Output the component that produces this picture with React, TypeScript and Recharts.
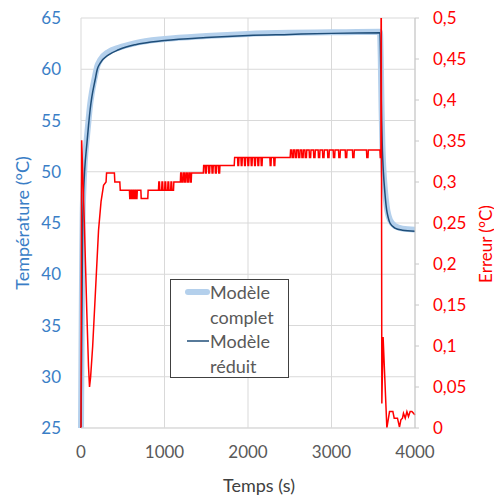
import React from 'react';
import { LineChart, Line, XAxis, YAxis, CartesianGrid, Legend } from 'recharts';

const FONT = 'Lato, "Open Sans", sans-serif';
const BLEU_CLAIR = '#B4D0EC';
const BLEU_FONCE = '#1F4E79';
const BLEU_TEXTE = '#3A7EC6';
const ROUGE = '#FF0000';
const GRIS_TEXTE = '#595959';
const GRILLE = '#D9D9D9';

// temps (s) des deux courbes de température
const tempsModele = [
  0, 5, 10, 15, 20, 30, 45, 70, 90, 110, 130, 170, 195, 230, 330, 450, 650, 1000, 1500, 2000, 2500,
  3000, 3580, 3590, 3600, 3610, 3620, 3640, 3660, 3680, 3700, 3760, 3850, 4000,
];
const modeleComplet = [
  25, 31.5, 37.5, 42, 45.8, 48.5, 51, 53.3, 55, 56.6, 57.7, 59.4, 60.3, 60.9, 61.7, 62.1, 62.55, 62.95, 63.25, 63.45, 63.55,
  63.6, 63.65, 61, 56, 52.5, 50.5, 48.2, 46.7, 45.8, 45.3, 44.7, 44.45, 44.35,
];
const modeleReduit = [
  25, 30, 35.5, 40.5, 44.8, 47.8, 50.3, 52.7, 54.5, 56.1, 57.3, 59, 60, 60.6, 61.4, 61.9, 62.4, 62.8, 63.1, 63.3, 63.4,
  63.5, 63.55, 60, 55, 52, 50.2, 47.9, 46.3, 45.5, 45, 44.5, 44.3, 44.2,
];

// erreur (°C) : début de la courbe [t, valeur]
const erreurDebut: [number, number][] = [
  [0, 0], [8, 0.351], [40, 0.25], [70, 0.14], [90, 0.075], [102, 0.05], [115, 0.062], [140, 0.1],
  [170, 0.16], [210, 0.241], [240, 0.276], [270, 0.296], [300, 0.3],
];
// paliers [début, fin, valeur]
const erreurPaliers: [number, number, number][] = [
  [306, 400, 0.311], [405, 465, 0.3], [470, 580, 0.29],
  [584, 594, 0.28], [598, 606, 0.29], [610, 620, 0.28], [624, 632, 0.29], [636, 646, 0.28], [650, 656, 0.29],
  [660, 670, 0.28], [674, 717, 0.29], [721, 800, 0.28], [804, 928, 0.29],
  [932, 940, 0.3], [944, 966, 0.29], [970, 978, 0.3], [982, 1002, 0.29], [1006, 1014, 0.3], [1018, 1038, 0.29],
  [1042, 1050, 0.3], [1054, 1074, 0.29], [1078, 1086, 0.3], [1090, 1108, 0.29], [1112, 1190, 0.3],
  [1194, 1204, 0.311], [1208, 1222, 0.3], [1226, 1238, 0.311], [1242, 1254, 0.3], [1258, 1272, 0.311],
  [1276, 1288, 0.3], [1292, 1306, 0.311], [1310, 1320, 0.3], [1324, 1465, 0.311],
  [1469, 1486, 0.32], [1490, 1500, 0.311], [1504, 1526, 0.32], [1530, 1540, 0.311], [1544, 1566, 0.32],
  [1570, 1580, 0.311], [1584, 1606, 0.32], [1610, 1620, 0.311], [1624, 1646, 0.32], [1650, 1660, 0.311],
  [1664, 1835, 0.32],
  [1840, 1875, 0.33], [1879, 1888, 0.32], [1892, 1915, 0.33], [1919, 1928, 0.32], [1932, 1955, 0.33],
  [1959, 1968, 0.32], [1972, 1995, 0.33], [1999, 2008, 0.32], [2012, 2035, 0.33], [2039, 2048, 0.32],
  [2052, 2075, 0.33], [2079, 2088, 0.32], [2092, 2115, 0.33], [2119, 2128, 0.32], [2132, 2155, 0.33],
  [2159, 2168, 0.32], [2172, 2262, 0.33], [2266, 2275, 0.32], [2279, 2308, 0.33], [2312, 2321, 0.32],
  [2325, 2505, 0.33],
  [2510, 2524, 0.339], [2528, 2542, 0.33], [2546, 2562, 0.339], [2566, 2580, 0.33], [2584, 2602, 0.339],
  [2606, 2620, 0.33], [2624, 2642, 0.339], [2646, 2660, 0.33], [2664, 2682, 0.339], [2686, 2700, 0.33],
  [2704, 2732, 0.339], [2736, 2750, 0.33], [2754, 2784, 0.339], [2788, 2802, 0.33], [2806, 2840, 0.339],
  [2844, 2858, 0.33], [2862, 2892, 0.339], [2896, 2910, 0.33], [2914, 2952, 0.339], [2956, 2970, 0.33],
  [2974, 3020, 0.339], [3024, 3038, 0.33], [3042, 3084, 0.339], [3088, 3102, 0.33], [3106, 3164, 0.339],
  [3168, 3182, 0.33], [3186, 3251, 0.339], [3255, 3269, 0.33], [3273, 3419, 0.339], [3423, 3437, 0.33],
  [3441, 3580, 0.339], [3584, 3592, 0.33],
];
// pic puis bruit final
const erreurFin: [number, number][] = [
  [3595, 0.6], [3603, 0.03], [3618, 0.111], [3663, 0], [3695, 0.02], [3735, 0.02], [3751, 0.012],
  [3790, 0.012], [3814, 0.001], [3831, 0.01], [3850, 0.012], [3862, 0.018], [3883, 0.012], [3903, 0.02],
  [3922, 0.014], [3942, 0.02], [3963, 0.02], [4000, 0.016],
];

const tempsTicks = [0, 1000, 2000, 3000, 4000];
const temperatureTicks = [25, 30, 35, 40, 45, 50, 55, 60, 65];
const erreurTicks = [0, 0.05, 0.1, 0.15, 0.2, 0.25, 0.3, 0.35, 0.4, 0.45, 0.5];

const tempData = tempsModele.map((t, i) => ({ t, complet: modeleComplet[i], reduit: modeleReduit[i] }));
const erreurData = [
  ...erreurDebut.map(([t, v]) => ({ t, erreur: v })),
  ...erreurPaliers.flatMap(([a, b, v]) => [{ t: a, erreur: v }, { t: b, erreur: v }]),
  ...erreurFin.map(([t, v]) => ({ t, erreur: v })),
];

const virgule = (v: number) => String(Math.round(v * 100) / 100).replace('.', ',');

function Legende() {
  const texte: React.CSSProperties = {
    position: 'absolute',
    left: 39,
    fontFamily: FONT,
    fontSize: 18,
    lineHeight: '25px',
    color: GRIS_TEXTE,
  };
  return (
    <div
      style={{
        position: 'relative',
        width: 117,
        height: 97,
        border: '1px solid #404040',
        background: '#fff',
      }}
    >
      <svg width={40} height={97} style={{ position: 'absolute', left: 0, top: 0 }}>
        <line x1={17} y1={12} x2={36} y2={12} stroke={BLEU_CLAIR} strokeWidth={6} strokeLinecap="round" />
        <line x1={16} y1={61} x2={38} y2={61} stroke={BLEU_FONCE} strokeWidth={1.5} />
      </svg>
      <div style={{ ...texte, top: 0 }}>
        Modèle
        <br />
        complet
      </div>
      <div style={{ ...texte, top: 49 }}>
        Modèle
        <br />
        réduit
      </div>
    </div>
  );
}

export default function App() {
  return (
    <div style={{ position: 'absolute', left: 0, top: 0, background: '#fff' }}>
      <LineChart width={494} height={498} margin={{ top: 18, right: 0, bottom: 0, left: 0 }}>
        <CartesianGrid yAxisId="left" stroke={GRILLE} strokeWidth={1} />
        <XAxis
          dataKey="t"
          type="number"
          domain={[0, 4000]}
          ticks={tempsTicks}
          height={70}
          axisLine={{ stroke: GRILLE }}
          tickLine={false}
          tickMargin={12}
          tick={{ fill: GRIS_TEXTE, fontSize: 17, fontFamily: FONT }}
          label={{
            content: ({ viewBox }: any) => (
              <text
                x={viewBox.x + viewBox.width / 2 + 11}
                y={viewBox.y + 57}
                textAnchor="middle"
                dominantBaseline="central"
                fill="#404040"
                fontSize={18}
                fontFamily={FONT}
              >
                Temps (s)
              </text>
            ),
          }}
        />
        <YAxis
          yAxisId="left"
          orientation="left"
          width={81}
          domain={[25, 65]}
          ticks={temperatureTicks}
          axisLine={false}
          tickLine={false}
          tickMargin={14}
          tick={{ fill: BLEU_TEXTE, fontSize: 17, fontFamily: FONT }}
          label={{
            content: ({ viewBox }: any) => {
              const cx = viewBox.x + 22;
              const cy = viewBox.y + viewBox.height / 2;
              return (
                <text
                  x={cx}
                  y={cy}
                  transform={`rotate(-90, ${cx}, ${cy})`}
                  textAnchor="middle"
                  dominantBaseline="central"
                  fill={BLEU_TEXTE}
                  fontSize={18}
                  fontFamily={FONT}
                >
                  Température (°C)
                </text>
              );
            },
          }}
        />
        <YAxis
          yAxisId="right"
          orientation="right"
          width={79}
          domain={[0, 0.5]}
          allowDataOverflow
          ticks={erreurTicks}
          tickFormatter={virgule}
          axisLine={{ stroke: '#C8C8C8' }}
          tickLine={{ stroke: '#C8C8C8' }}
          tickSize={4}
          tickMargin={14}
          tick={{ fill: ROUGE, fontSize: 17, fontFamily: FONT }}
          label={{
            content: ({ viewBox }: any) => {
              const cx = viewBox.x + 70;
              const cy = viewBox.y + viewBox.height / 2 + 21;
              return (
                <text
                  x={cx}
                  y={cy}
                  transform={`rotate(-90, ${cx}, ${cy})`}
                  textAnchor="middle"
                  dominantBaseline="central"
                  fill={ROUGE}
                  fontSize={17}
                  fontFamily={FONT}
                >
                  Erreur (°C)
                </text>
              );
            },
          }}
        />
        <Legend
          layout="horizontal"
          verticalAlign="middle"
          align="center"
          wrapperStyle={{ left: 170, top: 279, width: 119, height: 99 }}
          content={() => <Legende />}
        />
        <Line
          yAxisId="left"
          data={tempData}
          dataKey="complet"
          type="monotone"
          stroke={BLEU_CLAIR}
          strokeWidth={6}
          dot={false}
          activeDot={false}
          isAnimationActive={false}
        />
        <Line
          yAxisId="left"
          data={tempData}
          dataKey="reduit"
          type="monotone"
          stroke={BLEU_FONCE}
          strokeWidth={1.5}
          dot={false}
          activeDot={false}
          isAnimationActive={false}
        />
        <Line
          yAxisId="right"
          data={erreurData}
          dataKey="erreur"
          type="linear"
          stroke={ROUGE}
          strokeWidth={1.5}
          dot={false}
          activeDot={false}
          isAnimationActive={false}
        />
      </LineChart>
    </div>
  );
}
